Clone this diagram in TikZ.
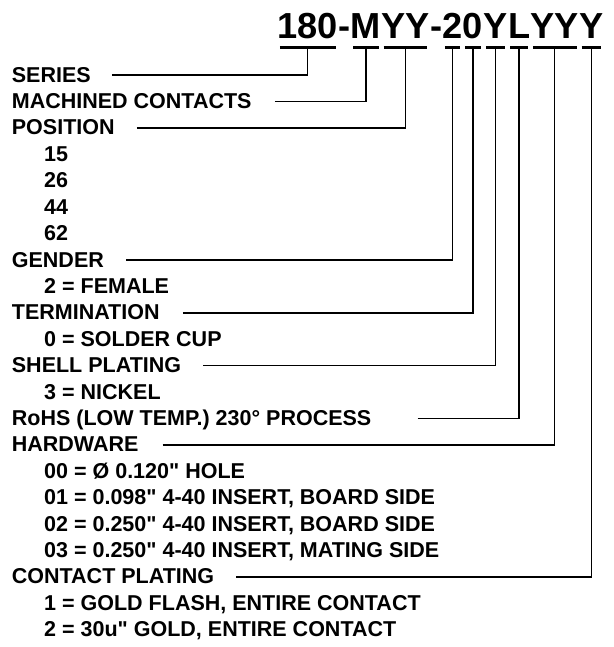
\documentclass[tikz,border=0pt]{standalone}
\usepackage{fontspec}
\setmainfont{Liberation Sans}
\newcommand{\qq}{\XeTeXglyph\XeTeXcharglyph"22\relax}
\begin{document}
\begin{tikzpicture}[x=1pt,y=-1pt,
  lbl/.style={anchor=base west, inner sep=0pt, font=\fontsize{21.5}{21.5}\selectfont\bfseries},
  pn/.style={anchor=base west, inner sep=0pt, font=\fontsize{36.2}{36.2}\selectfont\bfseries},
  bar/.style={line width=3pt},
  lead/.style={line width=1.5pt}]
\useasboundingbox (0,0) rectangle (613,647);
% part number
\node[pn] (p1) at (277.3,39) {180};
\node[pn] (d1) at (p1.base east) {-};
\node[pn] (p3) at (d1.base east) {M};
\node[pn] (p4) at (p3.base east) {YY};
\node[pn] (d2) at (p4.base east) {-};
\node[pn] (p6) at (d2.base east) {2};
\node[pn] (p7) at (p6.base east) {0};
\node[pn] (p8) at (p7.base east) {Y};
\node[pn] (p9) at (p8.base east) {L};
\node[pn] (p10) at (p9.base east) {YY};
\node[pn] (p11) at (p10.base east) {Y};
\foreach \n in {p1,p3,p4,p6,p7,p8,p9,p10,p11}
  \draw[bar] ([xshift=2.5pt,yshift=-8.5pt]\n.base west) -- ([xshift=-2.5pt,yshift=-8.5pt]\n.base east);
% labels
\def\row#1{{82.2+26.4*#1}}
\node[lbl] (series) at (11.7,\row{0}) {SERIES};
\node[lbl] (mach) at (11.7,\row{1}) {MACHINED CONTACTS};
\node[lbl] (pos) at (11.7,\row{2}) {POSITION};
\node[lbl] (pos1) at (44,\row{3}) {15};
\node[lbl] (pos2) at (44,\row{4}) {26};
\node[lbl] (pos3) at (44,\row{5}) {44};
\node[lbl] (pos4) at (44,\row{6}) {62};
\node[lbl] (gender) at (11.7,\row{7}) {GENDER};
\node[lbl] (gen1) at (44,\row{8}) {2 = FEMALE};
\node[lbl] (term) at (11.7,\row{9}) {TERMINATION};
\node[lbl] (term1) at (44,\row{10}) {0 = SOLDER CUP};
\node[lbl] (shell) at (11.7,\row{11}) {SHELL PLATING};
\node[lbl] (shell1) at (44,\row{12}) {3 = NICKEL};
\node[lbl] (rohs) at (11.7,\row{13}) {RoHS (LOW TEMP.) 230° PROCESS};
\node[lbl] (hw) at (11.7,\row{14}) {HARDWARE};
\node[lbl] (hw0) at (44,\row{15}) {00 = Ø 0.120\qq{} HOLE};
\node[lbl] (hw1) at (44,\row{16}) {01 = 0.098\qq{} 4-40 INSERT, BOARD SIDE};
\node[lbl] (hw2) at (44,\row{17}) {02 = 0.250\qq{} 4-40 INSERT, BOARD SIDE};
\node[lbl] (hw3) at (44,\row{18}) {03 = 0.250\qq{} 4-40 INSERT, MATING SIDE};
\node[lbl] (cp) at (11.7,\row{19}) {CONTACT PLATING};
\node[lbl] (cp1) at (44,\row{20}) {1 = GOLD FLASH, ENTIRE CONTACT};
\node[lbl] (cp2) at (44,\row{21}) {2 = 30u\qq{} GOLD, ENTIRE CONTACT};
% leaders
\foreach \l/\p/\g in {series/p1/21,mach/p3/23,pos/p4/22,gender/p6/22,term/p7/23,shell/p8/22,rohs/p9/46,hw/p10/24,cp/p11/22}{
  \coordinate (s-\l) at ([xshift=\g pt,yshift=7pt]\l.base east);
  \draw[lead] (s-\l) -- (s-\l -| \p.base) -- ([yshift=-8.5pt]\p.base);
}
\end{tikzpicture}
\end{document}
